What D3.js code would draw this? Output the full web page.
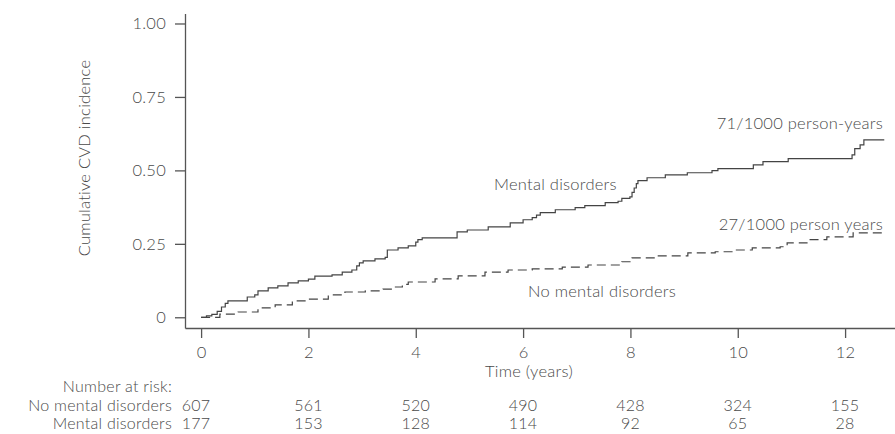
<!DOCTYPE html>
<html>
<head>
<meta charset="utf-8">
<script src="https://cdn.jsdelivr.net/npm/d3@7"></script>
<style>
  html, body { margin: 0; padding: 0; background: #fff; }
  svg text { font-family: Lato, "Open Sans", sans-serif; fill: #4a4a4a; font-weight: 300; letter-spacing: 0.25px; }
</style>
</head>
<body>
<svg id="chart" width="895" height="434"></svg>
<script>
// ---- data ----
const xTicks = [0, 2, 4, 6, 8, 10, 12];
const yTicks = [0, 0.25, 0.5, 0.75, 1];
const yTickLabels = ["0", "0.25", "0.50", "0.75", "1.00"];

const mentalTimes  = [0, 0.1, 0.2, 0.3, 0.38, 0.45, 0.5, 0.86, 1.0, 1.06, 1.25, 1.43, 1.62, 1.81, 2.0, 2.12, 2.44, 2.63, 2.81, 2.9, 2.95, 3.02, 3.24, 3.43, 3.47, 3.67, 3.86, 4.0, 4.04, 4.12, 4.77, 4.96, 5.35, 5.76, 6.0, 6.17, 6.25, 6.32, 6.6, 6.97, 7.15, 7.53, 7.77, 7.84, 7.99, 8.03, 8.07, 8.11, 8.14, 8.31, 8.65, 9.06, 9.52, 9.63, 10.29, 10.47, 10.94, 12.13, 12.18, 12.28, 12.35, 12.73];
const mentalValues = [0, 0.005, 0.01, 0.02, 0.035, 0.047, 0.056, 0.069, 0.076, 0.09, 0.10, 0.107, 0.117, 0.124, 0.13, 0.14, 0.144, 0.154, 0.161, 0.175, 0.185, 0.192, 0.199, 0.204, 0.229, 0.236, 0.243, 0.256, 0.264, 0.27, 0.291, 0.297, 0.308, 0.321, 0.332, 0.339, 0.348, 0.356, 0.366, 0.373, 0.38, 0.39, 0.395, 0.405, 0.41, 0.425, 0.44, 0.455, 0.465, 0.475, 0.485, 0.492, 0.499, 0.506, 0.519, 0.53, 0.54, 0.553, 0.574, 0.587, 0.604, 0.604];

const noMentalTimes  = [0, 0.35, 0.69, 1.06, 1.38, 1.7, 2.0, 2.37, 2.68, 3.06, 3.39, 3.61, 3.75, 3.86, 4.36, 4.79, 5.29, 5.72, 6.17, 6.73, 7.21, 7.84, 8.03, 8.46, 9.07, 9.58, 9.95, 10.27, 10.79, 10.92, 11.29, 11.66, 12.15, 12.74];
const noMentalValues = [0, 0.011, 0.018, 0.032, 0.042, 0.056, 0.062, 0.076, 0.086, 0.09, 0.096, 0.103, 0.112, 0.12, 0.131, 0.141, 0.154, 0.161, 0.165, 0.171, 0.178, 0.189, 0.202, 0.209, 0.219, 0.223, 0.229, 0.236, 0.24, 0.253, 0.264, 0.274, 0.287, 0.288];

const riskGroups = ["No mental disorders", "Mental disorders"];
const riskNoMental = [607, 561, 520, 490, 428, 324, 155];
const riskMental   = [177, 153, 128, 114, 92, 65, 28];

// ---- layout ----
const svg = d3.select("#chart");
const x = d3.scaleLinear().domain([-0.3, 12.93]).range([185, 895]);
const y = d3.scaleLinear().domain([-0.0365, 1.034]).range([328, 13.5]);

const fs = 16.5;

// axes
const yAxis = d3.axisLeft(y).tickValues(yTicks)
  .tickFormat((d, i) => yTickLabels[i]).tickSize(10).tickPadding(9).tickSizeOuter(0);
const gy = svg.append("g").attr("transform", "translate(185,0)").call(yAxis);

const xAxis = d3.axisBottom(x).tickValues(xTicks)
  .tickFormat(d3.format("d")).tickSize(10).tickPadding(8).tickSizeOuter(0);
const gx = svg.append("g").attr("transform", "translate(0,328)").call(xAxis);

[gy, gx].forEach(g => {
  g.selectAll("path.domain").attr("stroke", "#555").attr("stroke-width", 1.3);
  g.selectAll(".tick line").attr("stroke", "#555").attr("stroke-width", 1.3);
  g.selectAll(".tick text").style("font-size", fs + "px").attr("fill", "#4a4a4a")
    .style("font-family", "Lato, 'Open Sans', sans-serif");
});

// axis titles
svg.append("text")
  .attr("transform", "translate(90,158) rotate(-90)")
  .attr("text-anchor", "middle")
  .style("font-size", "16.5px")
  .text("Cumulative CVD incidence");

svg.append("text")
  .attr("x", 529).attr("y", 377)
  .attr("text-anchor", "middle")
  .style("font-size", fs + "px")
  .text("Time (years)");

// curves
const line = d3.line().curve(d3.curveStepAfter).x(d => x(d[0])).y(d => y(d[1]));
const mentalData = mentalTimes.map((t, i) => [t, mentalValues[i]]);
const noMentalData = noMentalTimes.map((t, i) => [t, noMentalValues[i]]);

svg.append("path").datum(noMentalData)
  .attr("d", line).attr("fill", "none")
  .attr("stroke", "#444").attr("stroke-width", 1.2)
  .attr("stroke-dasharray", "9,5");

svg.append("path").datum(mentalData)
  .attr("d", line).attr("fill", "none")
  .attr("stroke", "#444").attr("stroke-width", 1.2);

// curve labels
svg.append("text").attr("x", 494).attr("y", 190).style("font-size", fs + "px").text("Mental disorders");
svg.append("text").attr("x", 528).attr("y", 297).style("font-size", fs + "px").text("No mental disorders");
svg.append("text").attr("x", 883).attr("y", 129).attr("text-anchor", "end").style("font-size", fs + "px").text("71/1000 person-years");
svg.append("text").attr("x", 883).attr("y", 230).attr("text-anchor", "end").style("font-size", fs + "px").text("27/1000 person years");

// number at risk table
const tfs = 16;
svg.append("text").attr("x", 172).attr("y", 392).attr("text-anchor", "end")
  .style("font-size", tfs + "px").text("Number at risk:");
const rowY = [411, 429];
const rows = [riskNoMental, riskMental];
riskGroups.forEach((g, r) => {
  svg.append("text").attr("x", 172).attr("y", rowY[r]).attr("text-anchor", "end")
    .style("font-size", tfs + "px").text(g);
  svg.selectAll(null).data(rows[r]).enter().append("text")
    .attr("x", (d, i) => x(xTicks[i]) - (i === 0 ? 5 : 0))
    .attr("y", rowY[r])
    .attr("text-anchor", "middle")
    .style("font-size", tfs + "px")
    .text(d => d);
});
</script>
</body>
</html>
